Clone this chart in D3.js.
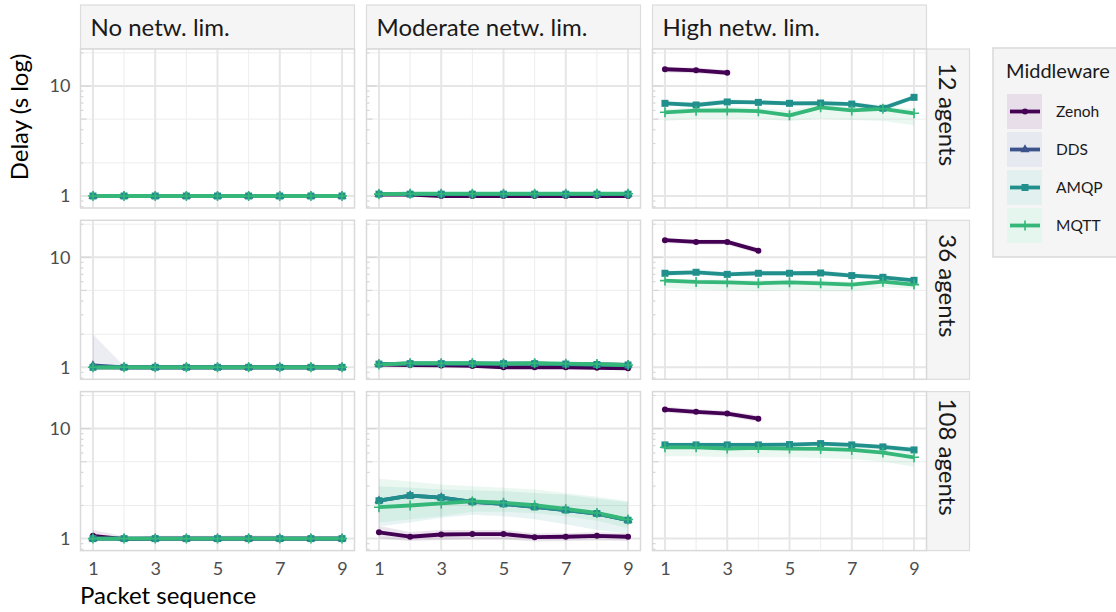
<!DOCTYPE html>
<html>
<head>
<meta charset="utf-8">
<script src="https://cdn.jsdelivr.net/npm/d3@7"></script>
<style>
  body { margin: 0; background: #fff; font-family: Lato, "Open Sans", sans-serif; }
</style>
</head>
<body>
<div id="chart"></div>
<script>
// Facet labels, categories, ticks
const packets = [1, 2, 3, 4, 5, 6, 7, 8, 9];
const limits = ["No netw. lim.", "Moderate netw. lim.", "High netw. lim."];
const agents = ["12 agents", "36 agents", "108 agents"];
const middleware = ["Zenoh", "DDS", "AMQP", "MQTT"];
const colors = ["#440154", "#3b528b", "#21908c", "#35b779"];
const xTicks = [1, 3, 5, 7, 9];
const xMinor = [2, 4, 6, 8];
const yTicks = [1, 10];
const yMinor = [2, 5, 20];
const logTicks = [0.8, 0.9, 2, 3, 4, 5, 6, 7, 8, 9, 10, 20];

// Mean delay (s): [row = agents][col = network limit][packet]
const zenohMean = [
  [[1, 1, 1, 1, 1, 1, 1, 1, 1], [1.03, 1.03, 1.0, 1.0, 1.0, 1.0, 1.0, 1.0, 1.0], [14.2, 13.9, 13.2, null, null, null, null, null, null]],
  [[1, 1, 1, 1, 1, 1, 1, 1, 1], [1.06, 1.05, 1.04, 1.03, 1.0, 1.0, 1.0, 0.99, 0.98], [14.3, 13.8, 13.8, 11.5, null, null, null, null, null]],
  [[1.06, 0.99, 1, 1, 1, 1, 1, 1, 1], [1.14, 1.04, 1.09, 1.10, 1.10, 1.03, 1.04, 1.06, 1.04], [14.9, 14.2, 13.7, 12.3, null, null, null, null, null]]
];
const ddsMean = [
  [[1, 1, 1, 1, 1, 1, 1, 1, 1], [1.04, 1.04, 1.04, 1.04, 1.04, 1.04, 1.04, 1.04, 1.04], null],
  [[1.04, 1, 1, 1, 1, 1, 1, 1, 1], [1.07, 1.08, 1.08, 1.08, 1.08, 1.08, 1.07, 1.06, 1.05], null],
  [[1, 1, 1, 1, 1, 1, 1, 1, 1], [2.21, 2.46, 2.36, 2.16, 2.07, 1.94, 1.82, 1.69, 1.47], null]
];
const amqpMean = [
  [[1, 1, 1, 1, 1, 1, 1, 1, 1], [1.04, 1.04, 1.04, 1.04, 1.04, 1.04, 1.04, 1.04, 1.04], [6.96, 6.72, 7.16, 7.1, 6.96, 7.0, 6.85, 6.27, 7.89]],
  [[1, 1, 1, 1, 1, 1, 1, 1, 1], [1.07, 1.08, 1.08, 1.08, 1.08, 1.08, 1.07, 1.06, 1.05], [7.16, 7.31, 7.0, 7.16, 7.16, 7.2, 6.82, 6.58, 6.18]],
  [[1, 1, 1, 1, 1, 1, 1, 1, 1], [2.21, 2.46, 2.36, 2.16, 2.07, 1.94, 1.82, 1.69, 1.47], [7.11, 7.11, 7.11, 7.11, 7.16, 7.31, 7.11, 6.82, 6.4]]
];
const mqttMean = [
  [[1, 1, 1, 1, 1, 1, 1, 1, 1], [1.04, 1.05, 1.05, 1.05, 1.05, 1.05, 1.05, 1.05, 1.05], [5.77, 5.97, 6.0, 5.9, 5.41, 6.4, 6.0, 6.2, 5.65]],
  [[1, 1, 1, 1, 1, 1, 1, 1, 1], [1.06, 1.09, 1.09, 1.09, 1.08, 1.09, 1.08, 1.07, 1.05], [6.14, 5.97, 5.92, 5.8, 5.92, 5.8, 5.65, 6.01, 5.65]],
  [[1, 1, 1, 1, 1, 1, 1, 1, 1], [1.93, 2.0, 2.09, 2.18, 2.12, 2.01, 1.86, 1.71, 1.49], [6.76, 6.76, 6.58, 6.67, 6.58, 6.53, 6.4, 6.05, 5.49]]
];

// Confidence band lower / upper bounds (null = band not visible)
const zenohLo = [
  [null, null, [13.3, 13.0, 12.5]],
  [null, null, [13.5, 13.1, 13.0, 10.8]],
  [[0.97, 0.97, 0.97, 0.97, 0.97, 0.97, 0.97, 0.97, 0.97], [1.0, 0.95, 0.97, 0.98, 0.98, 0.94, 0.95, 0.96, 0.95], [14.0, 13.4, 12.9, 11.5]]
];
const zenohHi = [
  [null, null, [15.0, 14.7, 14.0]],
  [null, null, [15.0, 14.5, 14.5, 12.2]],
  [[1.2, 1.05, 1.06, 1.06, 1.06, 1.07, 1.06, 1.05, 1.05], [1.3, 1.15, 1.2, 1.2, 1.2, 1.12, 1.12, 1.15, 1.12], [15.9, 15.0, 14.5, 13.2]]
];
const ddsLo = [
  [null, null, null],
  [[0.96, 0.99, 0.99, 0.99, 0.99, 0.99, 0.99, 0.99, 0.99], null, null],
  [null, null, null]
];
const ddsHi = [
  [null, null, null],
  [[2.0, 1.02, 1.01, 1.01, 1.01, 1.01, 1.01, 1.01, 1.01], null, null],
  [null, null, null]
];
const amqpLo = [
  [null, null, [6.6, 6.4, 6.8, 6.8, 6.6, 6.7, 6.5, 5.9, 7.5]],
  [null, null, [6.8, 6.9, 6.7, 6.8, 6.8, 6.8, 6.5, 6.2, 5.9]],
  [null, [1.29, 1.4, 1.55, 1.65, 1.6, 1.5, 1.35, 1.2, 1.11], [6.8, 6.8, 6.8, 6.8, 6.9, 7.0, 6.8, 6.5, 6.0]]
];
const amqpHi = [
  [null, null, [7.3, 7.1, 7.6, 7.4, 7.3, 7.3, 7.2, 6.7, 8.2]],
  [null, null, [7.5, 7.7, 7.4, 7.5, 7.5, 7.6, 7.2, 6.9, 6.5]],
  [null, [3.0, 2.9, 2.8, 2.75, 2.7, 2.6, 2.5, 2.3, 2.14], [7.5, 7.5, 7.5, 7.5, 7.5, 7.6, 7.4, 7.1, 6.8]]
];
const mqttLo = [
  [null, null, [4.8, 5.0, 5.0, 5.0, 4.8, 5.0, 4.9, 4.8, 4.4]],
  [null, null, [5.3, 5.1, 5.0, 4.9, 5.0, 4.9, 4.9, 5.3, 5.2]],
  [null, [1.4, 1.5, 1.6, 1.75, 1.75, 1.7, 1.6, 1.45, 1.25], [5.6, 5.6, 5.5, 5.5, 5.5, 5.4, 5.3, 5.0, 4.5]]
];
const mqttHi = [
  [null, null, [6.2, 6.3, 6.5, 6.3, 6.0, 6.8, 6.4, 6.5, 6.2]],
  [null, null, [6.4, 6.3, 6.3, 6.2, 6.3, 6.2, 6.0, 6.3, 6.0]],
  [null, [3.5, 3.3, 3.1, 3.0, 2.9, 2.8, 2.6, 2.4, 2.2], [7.2, 7.2, 7.1, 7.1, 7.0, 7.0, 6.9, 6.6, 6.1]]
];

const means = [zenohMean, ddsMean, amqpMean, mqttMean];
const lows = [zenohLo, ddsLo, amqpLo, mqttLo];
const highs = [zenohHi, ddsHi, amqpHi, mqttHi];

// Layout
const width = 1116, height = 612;
const colX = [80.5, 366.5, 652.5];
const rowY = [49, 220.3, 391.6];
const panelW = 274, panelH = 159;
const stripTop = 5, stripR = 43;

const svg = d3.select("#chart").append("svg")
  .attr("width", width).attr("height", height);

const x = d3.scaleLinear().domain([0.6, 9.4]).range([0, panelW]);
const y = d3.scaleLog().domain([0.778, 21.7]).range([panelH, 0]);

const line = d3.line()
  .defined(d => d.v != null)
  .x(d => x(d.p)).y(d => y(d.v));
const area = d3.area()
  .defined(d => d.lo != null)
  .x(d => x(d.p)).y0(d => y(d.lo)).y1(d => y(d.hi));

// Point shapes: circle, triangle, square, plus
function drawShape(g, i, cx, cy) {
  const c = colors[i];
  if (i === 0) g.append("circle").attr("cx", cx).attr("cy", cy).attr("r", 3).attr("fill", c);
  else if (i === 1) g.append("path").attr("transform", `translate(${cx},${cy})`)
    .attr("d", d3.symbol(d3.symbolTriangle, 36)()).attr("fill", c);
  else if (i === 2) g.append("rect").attr("x", cx - 3.5).attr("y", cy - 3.5)
    .attr("width", 7).attr("height", 7).attr("fill", c);
  else g.append("path").attr("d", `M${cx - 5},${cy}H${cx + 5}M${cx},${cy - 5}V${cy + 5}`)
    .attr("stroke", c).attr("stroke-width", 1.6).attr("fill", "none");
}

// Top strips
limits.forEach((lab, c) => {
  svg.append("rect").attr("x", colX[c]).attr("y", stripTop)
    .attr("width", panelW).attr("height", rowY[0] - stripTop)
    .attr("fill", "#f5f5f5").attr("stroke", "#dcdcdc").attr("stroke-width", 1.2);
  svg.append("text").attr("x", colX[c] + 10).attr("y", 36)
    .attr("font-size", 24).attr("fill", "#1a1a1a").text(lab);
});

// Right strips
agents.forEach((lab, r) => {
  const sx = colX[2] + panelW;
  svg.append("rect").attr("x", sx).attr("y", rowY[r])
    .attr("width", stripR).attr("height", panelH)
    .attr("fill", "#f5f5f5").attr("stroke", "#dcdcdc").attr("stroke-width", 1.2);
  svg.append("text")
    .attr("transform", `translate(${sx + 12},${rowY[r] + panelH / 2 - 14}) rotate(90)`)
    .attr("text-anchor", "middle").attr("font-size", 24).attr("fill", "#1a1a1a").text(lab);
});

// Panels
agents.forEach((_, r) => {
  limits.forEach((_, c) => {
    const g = svg.append("g").attr("transform", `translate(${colX[c]},${rowY[r]})`);
    g.append("rect").attr("width", panelW).attr("height", panelH).attr("fill", "#fff");

    // grid
    g.selectAll(".gminy").data(yMinor).enter().append("line")
      .attr("x1", 0).attr("x2", panelW).attr("y1", d => y(d)).attr("y2", d => y(d))
      .attr("stroke", "#ededed").attr("stroke-width", 1);
    g.selectAll(".gminx").data(xMinor).enter().append("line")
      .attr("y1", 0).attr("y2", panelH).attr("x1", d => x(d)).attr("x2", d => x(d))
      .attr("stroke", "#ededed").attr("stroke-width", 1);
    g.selectAll(".gmajy").data(yTicks).enter().append("line")
      .attr("x1", 0).attr("x2", panelW).attr("y1", d => y(d)).attr("y2", d => y(d))
      .attr("stroke", "#e6e6e6").attr("stroke-width", 2);
    g.selectAll(".gmajx").data(xTicks).enter().append("line")
      .attr("y1", 0).attr("y2", panelH).attr("x1", d => x(d)).attr("x2", d => x(d))
      .attr("stroke", "#e6e6e6").attr("stroke-width", 2);

    // log ticks on the left edge
    g.selectAll(".lt").data(logTicks).enter().append("line")
      .attr("x1", 0)
      .attr("x2", d => (Math.abs(Math.log10(d) % 1) < 1e-9 ? 10 : (String(d)[0] === "5" ? 6 : 3)))
      .attr("y1", d => y(d)).attr("y2", d => y(d))
      .attr("stroke", "#d6d6d6").attr("stroke-width", 1.2);

    // ribbons
    middleware.forEach((m, i) => {
      const lo = lows[i][r][c], hi = highs[i][r][c];
      if (!lo) return;
      const pts = packets.map((p, k) => ({ p, lo: lo[k] ?? null, hi: hi[k] ?? null }));
      g.append("path").datum(pts).attr("d", area)
        .attr("fill", colors[i]).attr("fill-opacity", 0.1);
    });

    // lines
    middleware.forEach((m, i) => {
      const v = means[i][r][c];
      if (!v) return;
      const pts = packets.map((p, k) => ({ p, v: v[k] }));
      g.append("path").datum(pts).attr("d", line)
        .attr("fill", "none").attr("stroke", colors[i]).attr("stroke-width", 3.8)
        .attr("stroke-linejoin", "round");
    });

    // points
    middleware.forEach((m, i) => {
      const v = means[i][r][c];
      if (!v) return;
      packets.forEach((p, k) => {
        if (v[k] == null) return;
        drawShape(g, i, x(p), y(v[k]));
      });
    });

    // border
    g.append("rect").attr("width", panelW).attr("height", panelH)
      .attr("fill", "none").attr("stroke", "#d9d9d9").attr("stroke-width", 1.5);

    // y axis labels on first column
    if (c === 0) {
      const ax = g.append("g").call(d3.axisLeft(y).tickValues(yTicks).tickSize(0).tickPadding(10).tickFormat(d3.format("d")));
      ax.select(".domain").remove();
      ax.selectAll("text").attr("font-size", 18).attr("fill", "#4d4d4d").attr("font-family", "Lato");
    }
    // x axis labels on bottom row
    if (r === 2) {
      const ax = g.append("g").attr("transform", `translate(0,${panelH})`)
        .call(d3.axisBottom(x).tickValues(xTicks).tickSize(0).tickPadding(12));
      ax.select(".domain").remove();
      ax.selectAll("text").attr("font-size", 18).attr("fill", "#4d4d4d").attr("font-family", "Lato");
    }
  });
});

// Axis titles
svg.append("text").attr("transform", "translate(28,117) rotate(-90)")
  .attr("text-anchor", "middle").attr("font-size", 24).attr("fill", "#000").text("Delay (s log)");
svg.append("text").attr("x", 80).attr("y", 604)
  .attr("font-size", 24).attr("fill", "#000").text("Packet sequence");

// Legend
const lg = svg.append("g");
lg.append("rect").attr("x", 993).attr("y", 48).attr("width", 140).attr("height", 209)
  .attr("fill", "#f5f5f5").attr("stroke", "#d9d9d9").attr("stroke-width", 1.5);
lg.append("text").attr("x", 1006).attr("y", 78).attr("font-size", 20).attr("fill", "#1a1a1a").text("Middleware");
middleware.forEach((m, i) => {
  const ky = 94 + i * 38;
  lg.append("rect").attr("x", 1007).attr("y", ky).attr("width", 35).attr("height", 35)
    .attr("fill", "#fff");
  lg.append("rect").attr("x", 1007).attr("y", ky).attr("width", 35).attr("height", 35)
    .attr("fill", colors[i]).attr("fill-opacity", 0.13);
  lg.append("line").attr("x1", 1010).attr("x2", 1040).attr("y1", ky + 17.5).attr("y2", ky + 17.5)
    .attr("stroke", colors[i]).attr("stroke-width", 3.8);
  drawShape(lg, i, 1025, ky + 17.5);
  lg.append("text").attr("x", 1056).attr("y", ky + 23).attr("font-size", 15.5)
    .attr("fill", "#1a1a1a").text(m);
});
</script>
</body>
</html>
